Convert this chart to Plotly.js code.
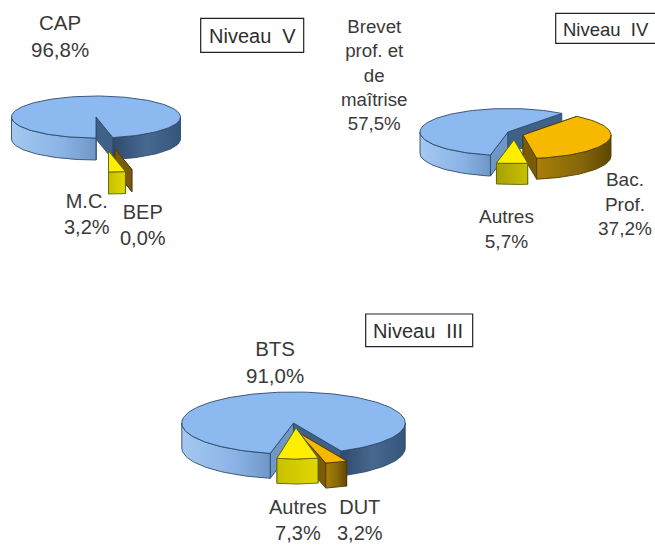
<!DOCTYPE html>
<html>
<head>
<meta charset="utf-8">
<script src="https://cdn.plot.ly/plotly-3.0.1.min.js"></script>
<style>html,body{margin:0;padding:0;background:#fff}#c{width:655px;height:546px}</style>
</head>
<body>
<div id="c"></div>
<script>
// --- data ---
const labelsV = ['CAP', 'BEP', 'M.C.'];
const valuesV = [96.8, 0.0, 3.2];
const labelsIV = ['Brevet<br>prof. et<br>de<br>maîtrise', 'Bac.<br>Prof.', 'Autres'];
const valuesIV = [57.5, 37.2, 5.7];
const labelsIII = ['BTS', 'DUT', 'Autres'];
const valuesIII = [91.0, 3.2, 7.3];
const titles = ['Niveau  V', 'Niveau  IV', 'Niveau  III'];

// --- styles ---
const BLUE = {top:'#8cbaf0', edge:'#2d4a6c', cutA:'#6f97c6', cutB:'#3f6188',
  left:[[0,'#a4c8f0'],[0.6,'#8ab4e6'],[1,'#6f96c6']], right:[[0,'#2f4a6e'],[0.5,'#47698f'],[1,'#36557a']]};
const GOLD = {top:'#f6b900', edge:'#4f3c00', cutA:'#7a5c08', cutB:'#7a5c08',
  left:[[0,'#a87f08'],[1,'#8a6a06']], right:[[0,'#a87f08'],[0.6,'#86660a'],[1,'#5e4700']]};
const YELL = {top:'#ffee00', edge:'#5c6410', cutA:'#8a8a00', cutB:'#8a8a00',
  left:[[0,'#a8a000'],[1,'#c8c000']], right:[[0,'#c8c000'],[1,'#e0d800']]};
const OLIVE = {top:'#7a5c10', edge:'#4a3c08', cutA:'#7a5c10', cutB:'#7a5c10', left:[[0,'#7a5c10'],[1,'#7a5c10']], right:[[0,'#7a5c10'],[1,'#7a5c10']]};

// --- layout of the three pies (screen-sized axes) ---
const pies = [
  {labels:labelsV, values:valuesV, start:180, cx:96, cy:117, rx:84.5, ry:21, depth:22,
   styles:[BLUE, OLIVE, YELL],
   offsets:[[0,0],[19,32],[12.5,34]], widen:[1,1,1],
   order:[0,1,2],
   pos:[[60,36,20.5],[143,225,20],[87,214,20]]},
  {labels:labelsIV, values:valuesIV, start:191.5, cx:508, cy:132, rx:88, ry:23.5, depth:21,
   styles:[BLUE, GOLD, YELL],
   offsets:[[0,0],[15,3],[6,8]], widen:[1,1,1],
   order:[0,1,2],
   pos:[[373.5,75,18.7],[625,204,19],[506,229,19]]},
  {labels:labelsIII, values:valuesIII, start:192, cx:293.5, cy:423, rx:111.7, ry:31, depth:25,
   styles:[BLUE, GOLD, YELL],
   offsets:[[0,0],[5.5,10],[2.5,5]], widen:[1,1,0.82],
   order:[0,1,2],
   pos:[[275,362,20.5],[360,519.5,20],[298,520,20]]}
];
const boxes = [[200.7,18.3,303.7,52.3,252,35.5,20],[555.7,13.3,660,43.3,606,29,18.5],[365.7,314,472.7,346.7,418,331,20]];

const rad = d => d*Math.PI/180;
const px = (p,c,t,k) => c[0] + p.rx*k*Math.sin(rad(t));
const py = (p,c,t) => c[1] - p.ry*Math.cos(rad(t));
function arc(p,c,a,b,dy,k){
  const xs=[],ys=[],n=Math.max(2,Math.ceil(Math.abs(b-a)/2));
  for(let i=0;i<=n;i++){const t=a+(b-a)*i/n; xs.push(px(p,c,t,k)); ys.push(py(p,c,t)+dy);}
  return [xs,ys];
}
function poly(xs,ys,fill,edge,grad,w){
  const tr={x:xs.concat([xs[0]]),y:ys.concat([ys[0]]),type:'scatter',mode:'lines',fill:'toself',
    fillcolor:fill,line:{color:edge,width:w===undefined?0.9:w},hoverinfo:'skip',showlegend:false};
  if(grad){tr.fillgradient={type:'horizontal',colorscale:grad}; delete tr.fillcolor;}
  return tr;
}
const traces=[], annotations=[], shapes=[];
pies.forEach(p=>{
  const total=p.values.reduce((a,b)=>a+b,0);
  let t=p.start; const spans=p.values.map(v=>{const a=t; t+=v/total*360; return [a,t];});
  p.order.forEach(i=>{
    const [a,b]=spans[i], st=p.styles[i], k=p.widen[i];
    const c=[p.cx+p.offsets[i][0], p.cy+p.offsets[i][1]];
    const wall=(th,col)=>{
      const rx=px(p,c,th,k), ry=py(p,c,th);
      traces.push(poly([c[0],rx,rx,c[0]],[c[1],ry,ry+p.depth,c[1]+p.depth],col,st.edge));
    };
    wall(a,st.cutA); wall(b,st.cutB);
    // visible outer wall: the front half (90..270 degrees, also one turn on)
    [[90,270],[450,630]].forEach(([lo,hi])=>{
      const u=Math.max(a,lo), v=Math.min(b,hi);
      if(v-u<=0.01) return;
      const top=arc(p,c,u,v,0,k), bot=arc(p,c,v,u,p.depth,k);
      const mid=((u+v)/2)%360;
      traces.push(poly(top[0].concat(bot[0]),top[1].concat(bot[1]),st.top,st.edge,mid>180?st.left:st.right));
    });
    if(b-a>0.01){
      const ar=arc(p,c,a,b,0,k);
      traces.push(poly([c[0]].concat(ar[0]),[c[1]].concat(ar[1]),st.top,st.edge));
    }
    const pct=p.values[i].toFixed(1).replace('.',',')+'%';
    annotations.push({x:p.pos[i][0],y:p.pos[i][1],xref:'x',yref:'y',text:p.labels[i]+'<br>'+pct,
      showarrow:false,xanchor:'center',yanchor:'middle',align:'center',
      font:{family:'Liberation Sans, Arial, sans-serif',size:p.pos[i][2],color:'#3a3a3a'}});
  });
});
boxes.forEach((r,i)=>{
  shapes.push({type:'rect',xref:'x',yref:'y',x0:r[0],y0:r[1],x1:r[2],y1:r[3],line:{color:'#222',width:1.2},fillcolor:'#fff'});
  annotations.push({x:r[4],y:r[5],xref:'x',yref:'y',text:titles[i],showarrow:false,xanchor:'center',yanchor:'middle',
    font:{family:'Liberation Sans, Arial, sans-serif',size:r[6],color:'#2e2e2e'}});
});
Plotly.newPlot('c',traces,{
  width:655,height:546,margin:{l:0,r:0,t:0,b:0},paper_bgcolor:'#fff',plot_bgcolor:'#fff',showlegend:false,
  xaxis:{range:[0,655],visible:false,fixedrange:true},
  yaxis:{range:[546,0],visible:false,fixedrange:true},
  annotations,shapes
},{displayModeBar:false,staticPlot:true});
</script>
</body>
</html>
